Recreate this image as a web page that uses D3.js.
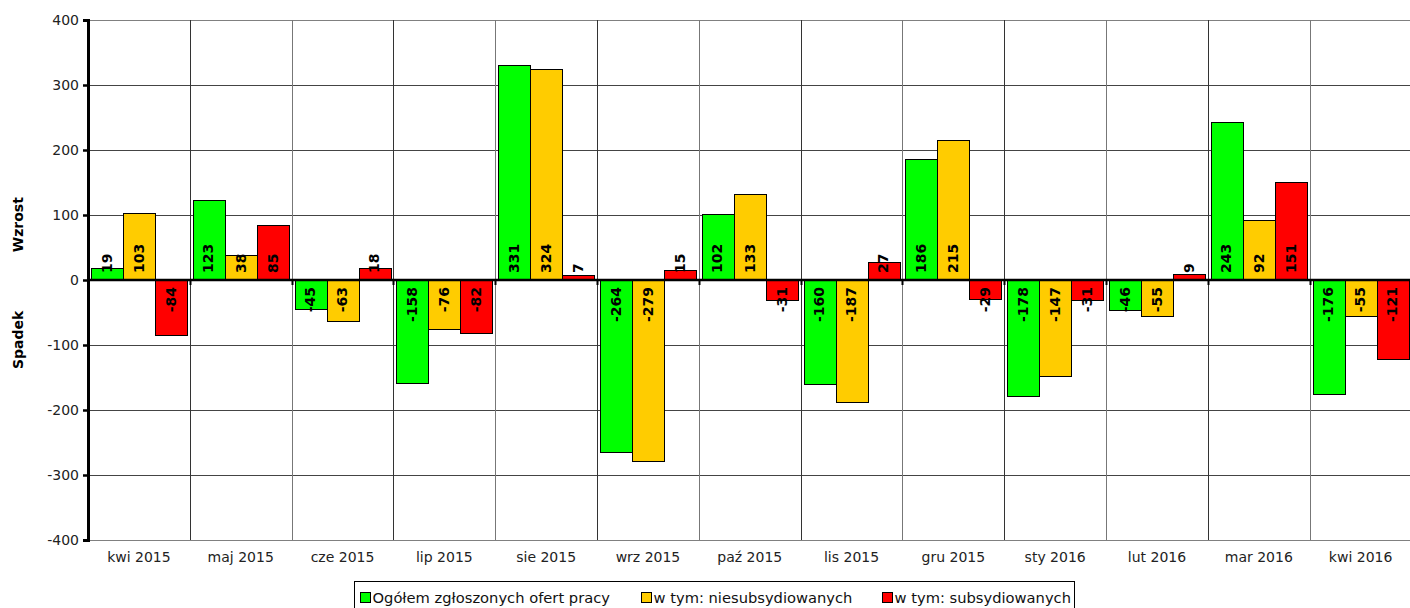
<!DOCTYPE html>
<html>

<head>
	<meta charset="utf-8">
	<title>Oferty pracy - zmiana</title>
	<script src="https://cdn.jsdelivr.net/npm/d3@7/dist/d3.min.js"></script>
	<style>
		body { margin: 0; background: #fff; }
		svg text { font-family: "DejaVu Sans", Verdana, sans-serif; }
		.grid line { stroke-width: 1px; shape-rendering: crispEdges; }
		.bar { stroke: #000; stroke-width: 1px; shape-rendering: crispEdges; }
		.lbl { font-size: 14px; font-weight: bold; fill: #000; }
		.tick-lbl { font-size: 14px; fill: #222; }
	</style>
</head>

<body>
	<svg id="chart" width="1410" height="608"></svg>

	<script>
		// data
		var months = ['kwi 2015', 'maj 2015', 'cze 2015', 'lip 2015', 'sie 2015', 'wrz 2015', 'paź 2015',
			'lis 2015', 'gru 2015', 'sty 2016', 'lut 2016', 'mar 2016', 'kwi 2016'];
		var ogolem = [19, 123, -45, -158, 331, -264, 102, -160, 186, -178, -46, 243, -176];
		var niesub = [103, 38, -63, -76, 324, -279, 133, -187, 215, -147, -55, 92, -55];
		var subs = [-84, 85, 18, -82, 7, 15, -31, 27, -29, -31, 9, 151, -121];
		var seriesNames = ['Ogółem zgłoszonych ofert pracy', 'w tym: niesubsydiowanych', 'w tym: subsydiowanych'];
		var colors = ['#00ff00', '#ffcc00', '#ff0000'];
		var yTicks = [-400, -300, -200, -100, 0, 100, 200, 300, 400];

		var series = [ogolem, niesub, subs];

		var svg = d3.select('#chart');
		var mLeft = 88, mRight = 1411.5, mTop = 20, mBottom = 540;

		var x0 = d3.scaleBand().domain(months).range([mLeft, mRight]).padding(0);
		var x1 = d3.scaleBand().domain([0, 1, 2]).range([2.5, x0.bandwidth() - 3]).padding(0);
		var y = d3.scaleLinear().domain([-400, 400]).range([mBottom, mTop]);

		// grid
		var grid = svg.append('g').attr('class', 'grid');
		grid.selectAll('.h').data(yTicks).enter().append('line')
			.attr('x1', mLeft).attr('x2', mRight)
			.attr('y1', d => Math.round(y(d)) + 0.5).attr('y2', d => Math.round(y(d)) + 0.5)
			.style('stroke', d => (d == 400 || d == -400) ? '#808080' : '#444');
		grid.selectAll('.v').data(months.slice(1)).enter().append('line')
			.attr('x1', d => Math.round(x0(d)) + 0.5).attr('x2', d => Math.round(x0(d)) + 0.5)
			.attr('y1', mTop).attr('y2', mBottom)
			.style('stroke', (d, i) => i % 2 ? '#777' : '#333');

		// bars
		var groups = svg.selectAll('.grp').data(months).enter().append('g')
			.attr('transform', d => 'translate(' + x0(d) + ',0)');

		groups.selectAll('rect')
			.data((m, i) => series.map((s, k) => ({ k: k, v: s[i] })))
			.enter().append('rect')
			.attr('class', 'bar')
			.attr('x', d => Math.round(x1(d.k)) + 0.5)
			.attr('width', Math.round(x1.bandwidth()))
			.attr('y', d => Math.round(y(Math.max(0, d.v))) + 0.5)
			.attr('height', d => Math.max(1, Math.round(Math.abs(y(d.v) - y(0)))))
			.attr('fill', d => colors[d.k]);

		// zero line
		svg.append('line')
			.attr('x1', mLeft).attr('x2', mRight)
			.attr('y1', y(0)).attr('y2', y(0))
			.attr('stroke', '#000').attr('stroke-width', 2.5);

		// small ticks on zero line at category edges
		svg.selectAll('.zt').data(months).enter().append('line')
			.attr('x1', d => Math.round(x0(d)) + 0.5).attr('x2', d => Math.round(x0(d)) + 0.5)
			.attr('y1', y(0)).attr('y2', y(0) + 5)
			.attr('stroke', '#000').attr('stroke-width', 2);

		// value labels
		groups.selectAll('.lbl')
			.data((m, i) => series.map((s, k) => ({ k: k, v: s[i] })))
			.enter().append('text')
			.attr('class', 'lbl')
			.attr('transform', d => {
				var cx = x1(d.k) + x1.bandwidth() / 2;
				var cy = d.v >= 0 ? y(0) - 7 : y(0) + 7;
				return 'translate(' + cx + ',' + cy + ') rotate(-90)';
			})
			.attr('dy', '0.36em')
			.attr('text-anchor', d => d.v >= 0 ? 'start' : 'end')
			.text(d => d.v);

		// y axis
		var yAxis = svg.append('g')
			.attr('transform', 'translate(' + mLeft + ',0)')
			.call(d3.axisLeft(y).tickValues(yTicks).tickFormat(d => String(d)).tickSize(5).tickPadding(4));
		yAxis.attr('font-family', null).attr('font-size', null);
		yAxis.select('.domain').attr('stroke', '#000').attr('stroke-width', 3);
		yAxis.selectAll('.tick line').attr('stroke', '#000').attr('stroke-width', 2.5);
		yAxis.selectAll('.tick text').attr('class', 'tick-lbl');

		// x labels
		var xAxis = svg.append('g')
			.attr('transform', 'translate(0,' + mBottom + ')')
			.call(d3.axisBottom(x0).tickSize(0).tickPadding(12));
		xAxis.attr('font-family', null).attr('font-size', null);
		xAxis.select('.domain').remove();
		xAxis.selectAll('.tick text').attr('class', 'tick-lbl');

		// axis titles
		svg.append('text')
			.attr('transform', 'translate(23,' + y(85) + ') rotate(-90)')
			.attr('text-anchor', 'middle')
			.style('font-size', '14px').style('font-weight', 'bold')
			.text('Wzrost');
		svg.append('text')
			.attr('transform', 'translate(23,' + y(-92) + ') rotate(-90)')
			.attr('text-anchor', 'middle')
			.style('font-size', '14px').style('font-weight', 'bold')
			.text('Spadek');

		// legend
		var legend = svg.append('g').attr('transform', 'translate(354.5,581.5)');
		legend.append('rect')
			.attr('width', 720).attr('height', 40)
			.attr('fill', 'none').attr('stroke', '#000');
		var legendX = [6, 287, 528];
		var items = legend.selectAll('.li').data(seriesNames).enter().append('g')
			.attr('transform', (d, i) => 'translate(' + legendX[i] + ',0)');
		items.append('rect')
			.attr('x', 0).attr('y', 11).attr('width', 10).attr('height', 10)
			.attr('fill', (d, i) => colors[i]).attr('stroke', '#000');
		items.append('text')
			.attr('x', 12).attr('y', 21)
			.style('font-size', '14.7px').style('fill', '#111')
			.text(d => d);
	</script>
</body>

</html>
